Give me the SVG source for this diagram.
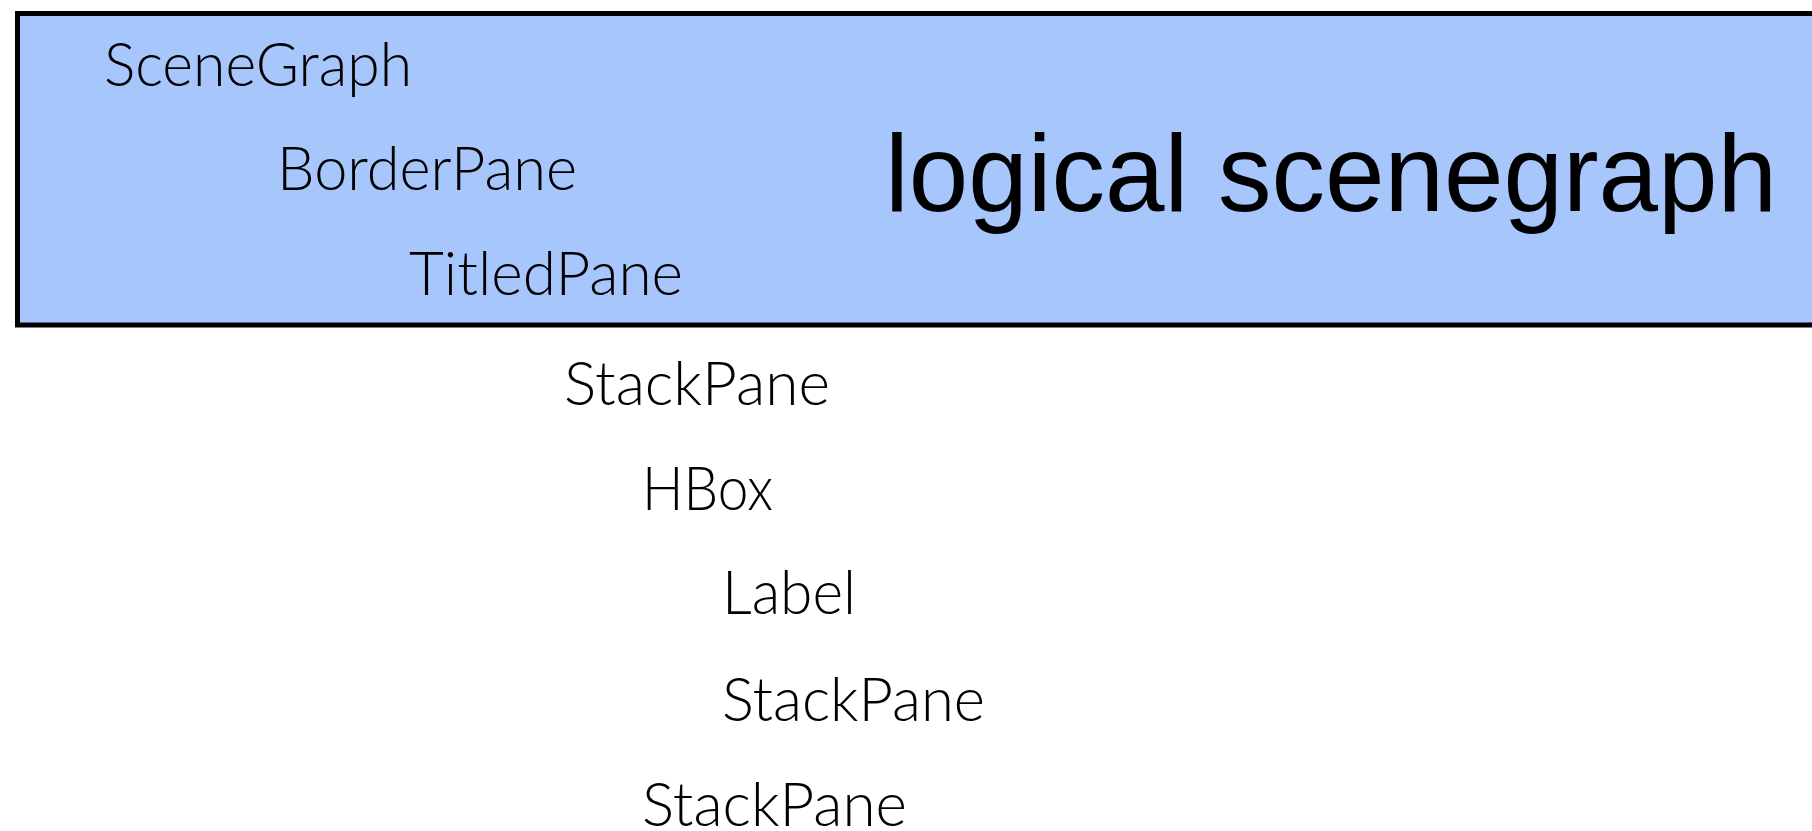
<svg xmlns="http://www.w3.org/2000/svg" width="1812" height="831" viewBox="0 0 1812 831">
<style>
.lbl{font-family:Lato,"Open Sans","Noto Sans",sans-serif;font-weight:300;font-size:61px;fill:#000}
.big{font-family:"Liberation Sans",Arial,sans-serif;font-size:109px;fill:#000}
</style>
<rect width="1812" height="831" fill="#ffffff"/>
<g id="logical-box">
<rect x="17.5" y="13.5" width="1830" height="311.5" fill="#a7c6fb" stroke="#000" stroke-width="5"/>
<text class="big" x="885" y="211" textLength="892" lengthAdjust="spacingAndGlyphs">logical scenegraph</text>
</g>
<g id="n-scenegraph"><text class="lbl" x="104" y="86" textLength="308" lengthAdjust="spacingAndGlyphs">SceneGraph</text></g>
<g id="n-borderpane"><text class="lbl" x="277" y="190" textLength="300" lengthAdjust="spacingAndGlyphs">BorderPane</text></g>
<g id="n-titledpane"><text class="lbl" x="409" y="295" textLength="274" lengthAdjust="spacingAndGlyphs">TitledPane</text></g>
<g id="n-stackpane1"><text class="lbl" x="564" y="405" textLength="266" lengthAdjust="spacingAndGlyphs">StackPane</text></g>
<g id="n-hbox"><text class="lbl" x="642" y="510" textLength="131" lengthAdjust="spacingAndGlyphs">HBox</text></g>
<g id="n-label"><text class="lbl" x="722" y="614" textLength="134" lengthAdjust="spacingAndGlyphs">Label</text></g>
<g id="n-stackpane2"><text class="lbl" x="722" y="721" textLength="263" lengthAdjust="spacingAndGlyphs">StackPane</text></g>
<g id="n-stackpane3"><text class="lbl" x="642" y="826" textLength="265" lengthAdjust="spacingAndGlyphs">StackPane</text></g>
</svg>
